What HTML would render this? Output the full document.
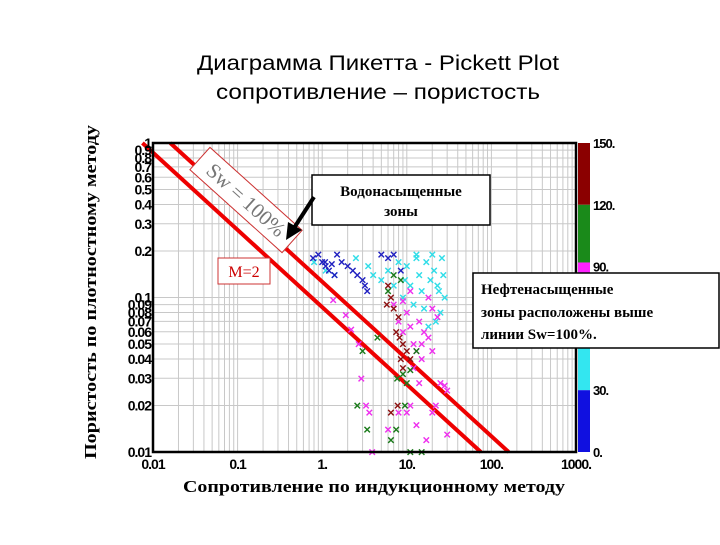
<!DOCTYPE html>
<html><head><meta charset="utf-8">
<style>
body{margin:0;background:#fff;}
.sans{font-family:"Liberation Sans",sans-serif;}
.ser{font-family:"Liberation Serif",serif;font-weight:bold;}
</style></head>
<body>
<svg id="chart" width="720" height="540" viewBox="0 0 720 540" xmlns="http://www.w3.org/2000/svg">
<rect width="720" height="540" fill="#fff"/>
<text class="sans" x="378" y="70" font-size="21" text-anchor="middle" textLength="362" lengthAdjust="spacingAndGlyphs">Диаграмма Пикетта - Pickett Plot</text>
<text class="sans" x="378" y="99" font-size="21" text-anchor="middle" textLength="324" lengthAdjust="spacingAndGlyphs">сопротивление – пористость</text>
<g id="grid"></g>
<g id="lines"></g>
<g id="pts"></g>
<rect x="153" y="143" width="423" height="309" fill="none" stroke="#000" stroke-width="2.5"/>
<g id="yticks"></g>
<g id="xticks"></g>
<g id="cbar"></g>
<text class="ser" font-size="17" transform="translate(96,292) rotate(-90)" text-anchor="middle" textLength="334" lengthAdjust="spacingAndGlyphs">Пористость по плотностному методу</text>
<text class="ser" font-size="17" x="374" y="492" text-anchor="middle" textLength="382" lengthAdjust="spacingAndGlyphs">Сопротивление по индукционному методу</text>
<g transform="translate(246,200) rotate(42)">
<rect x="-62" y="-15" width="124" height="30" fill="#fff" stroke="#c33" stroke-width="1"/>
<text x="0" y="7" style="font-family:'Liberation Serif',serif" font-size="21" fill="#777" text-anchor="middle">Sw = 100%</text>
</g>
<g>
<rect x="218" y="258" width="52" height="26" fill="#fff" stroke="#c33" stroke-width="1"/>
<text x="244" y="277" style="font-family:'Liberation Serif',serif" font-size="16" fill="#c00" text-anchor="middle">M=2</text>
</g>
<g>
<rect x="312" y="175" width="178" height="50" fill="#fff" stroke="#000" stroke-width="1.5"/>
<text class="ser" x="401" y="196" font-size="15" text-anchor="middle">Водонасыщенные</text>
<text class="ser" x="401" y="216" font-size="15" text-anchor="middle">зоны</text>
<line x1="314" y1="197" x2="294" y2="228" stroke="#000" stroke-width="4"/>
<polygon points="286,240 288,222 302,230" fill="#000"/>
</g>
<g>
<rect x="473" y="273" width="246" height="75" fill="#fff" stroke="#000" stroke-width="1.5"/>
<text class="ser" x="481" y="294" font-size="15">Нефтенасыщенные</text>
<text class="ser" x="481" y="317" font-size="15">зоны расположены выше</text>
<text class="ser" x="481" y="339" font-size="15">линии Sw=100%.</text>
</g>
</svg>
<script>
const xTicks=[0.01,0.1,1,10,100,1000];
const xTickLabels=["0.01","0.1","1.","10.","100.","1000."];
const yTicks=[1,0.9,0.8,0.7,0.6,0.5,0.4,0.3,0.2,0.1,0.09,0.08,0.07,0.06,0.05,0.04,0.03,0.02,0.01];
const yTickLabels=["1","0.9","0.8","0.7","0.6","0.5","0.4","0.3","0.2","0.1","0.09","0.08","0.07","0.06","0.05","0.04","0.03","0.02","0.01"];
const swLineRt=[[0.016,160],[0.0075,75]];
const swLinePhi=[[1,0.01],[1,0.01]];
const blueRt=[0.78,0.9,1.0,1.08,1.2,1.3,1.5,1.7,2.0,2.3,2.6,3.0,3.2,3.4,5,6,7,8.5,1.1,1.4];
const bluePhi=[0.18,0.19,0.17,0.17,0.15,0.165,0.19,0.17,0.16,0.15,0.14,0.13,0.12,0.11,0.19,0.18,0.19,0.15,0.16,0.14];
const cyanRt=[0.8,1.1,1.4,2.5,3.5,4,5,6,7,8,10,11,13,14,15,17,20,21,23,26,27,28,25,12,9,22,18,16,24,19,13,9.5];
const cyanPhi=[0.17,0.15,0.14,0.18,0.16,0.14,0.13,0.15,0.12,0.17,0.16,0.12,0.18,0.14,0.11,0.17,0.19,0.15,0.12,0.18,0.14,0.10,0.08,0.09,0.10,0.07,0.065,0.085,0.11,0.13,0.19,0.13];
const magRt=[1.35,1.9,2.2,2.9,3.6,3.9,7,8,9,10,11,12,13,14,16,18,15,20,12,14,25,28,30,22,8,10,11,13,20,30,6,17,3.3,2.7,18,20,11,23,9,15];
const magPhi=[0.096,0.077,0.062,0.03,0.018,0.01,0.09,0.07,0.06,0.08,0.065,0.05,0.045,0.07,0.06,0.055,0.04,0.045,0.035,0.028,0.028,0.027,0.025,0.02,0.018,0.018,0.02,0.015,0.018,0.013,0.014,0.012,0.02,0.05,0.1,0.085,0.11,0.075,0.095,0.05];
const redRt=[6,6.5,7,8,7.5,9,8.5,10,9,11,7.8,6.5,5.8,8.2];
const redPhi=[0.12,0.1,0.085,0.075,0.06,0.05,0.04,0.045,0.035,0.04,0.02,0.018,0.09,0.055];
const greenRt=[7,8.5,6,4.5,3,2.6,3.4,6.5,7.5,9,10,11,9.5,11,15,13,7.7];
const greenPhi=[0.14,0.13,0.11,0.055,0.045,0.02,0.014,0.012,0.014,0.032,0.028,0.034,0.02,0.01,0.01,0.045,0.03];
const cbarStops=[150,120,92,60,30,0];
const cbarColors=["#8b0000","#1a8a1a","#ff22ff","#33e6f0","#1010e0"];
const cbarLabels=[150,120,90,30,0];

const X0=153,X1=576,Y0=143,Y1=452;
const sx=v=>X0+(Math.log10(v)+2)/5*(X1-X0);
const sy=v=>Y0-Math.log10(v)/2*(Y1-Y0);
const NS="http://www.w3.org/2000/svg";
function mk(tag,parent,attrs){const e=document.createElementNS(NS,tag);for(const k in attrs)e.setAttribute(k,attrs[k]);parent.appendChild(e);return e;}
const grid=document.getElementById('grid');
for(let d=-2;d<3;d++)for(let m=1;m<10;m++){const x=sx(m*Math.pow(10,d));
 const l=mk('line',grid,{x1:x,x2:x,y1:Y0,y2:Y1,stroke:'#c8c8c8','stroke-width':1});
 
 }
for(let d=-2;d<0;d++)for(let m=1;m<10;m++){const y=sy(m*Math.pow(10,d));
 const l=mk('line',grid,{x1:X0,x2:X1,y1:y,y2:y,stroke:'#c8c8c8','stroke-width':1});
 
 }
const lines=document.getElementById('lines');
swLineRt.forEach((r,i)=>{
 const l=mk('line',lines,{x1:sx(r[0]),y1:sy(swLinePhi[i][0]),x2:sx(r[1]),y2:sy(swLinePhi[i][1]),stroke:'#e00','stroke-width':4});
 
 });
const pts=document.getElementById('pts');
function series(rt,ph,col,name){rt.forEach((r,i)=>{const x=sx(r),y=sy(ph[i]);
 const t=mk('text',pts,{x:x,y:y+4.5,'font-size':13,'font-weight':'bold',fill:col,'text-anchor':'middle',class:'sans'});t.textContent='×';
 
 });}
series(cyanRt,cyanPhi,'#30dde8','point-cyan');
series(blueRt,bluePhi,'#2020c0','point-blue');
series(magRt,magPhi,'#ee30ee','point-magenta');
series(redRt,redPhi,'#8b1010','point-darkred');
series(greenRt,greenPhi,'#1a7a1a','point-green');
const yt=document.getElementById('yticks');
yTicks.forEach((v,i)=>{const t=mk('text',yt,{x:151,y:sy(v)+5,'font-size':14,'font-weight':'bold','text-anchor':'end','letter-spacing':'-1',class:'sans'});t.textContent=yTickLabels[i];
 
 });
const xt=document.getElementById('xticks');
xTicks.forEach((v,i)=>{const t=mk('text',xt,{x:sx(v),y:469,'font-size':14,'font-weight':'bold','text-anchor':'middle','letter-spacing':'-1',class:'sans'});t.textContent=xTickLabels[i];
 
 });
const cb=document.getElementById('cbar');
const cy=v=>Y1-(v/150)*(Y1-Y0);
cbarColors.forEach((c,i)=>{const r=mk('rect',cb,{x:578,y:cy(cbarStops[i]),width:12,height:cy(cbarStops[i+1])-cy(cbarStops[i]),fill:c});
 
 });
cbarLabels.forEach(v=>{const t=mk('text',cb,{x:593,y:cy(v)+5,'font-size':13,'font-weight':'bold','letter-spacing':'-1',class:'sans'});t.textContent=v+'.';
 
 });
</script>
</body></html>
